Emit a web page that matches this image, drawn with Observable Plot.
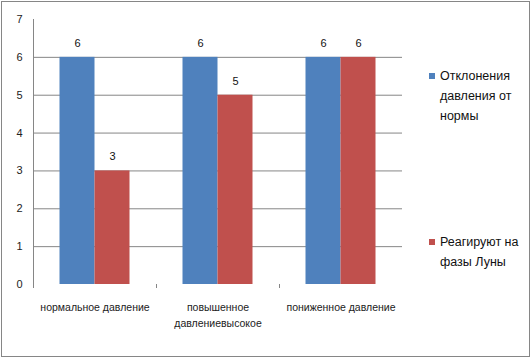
<!DOCTYPE html>
<html><head><meta charset="utf-8">
<script src="https://cdn.jsdelivr.net/npm/d3@7"></script>
<script src="https://cdn.jsdelivr.net/npm/@observablehq/plot@0.6"></script>
<style>
body{margin:0;background:#fff;font-family:"Liberation Sans",Arial,sans-serif;}
#wrap{position:relative;width:532px;height:359px;}
#border{position:absolute;left:1px;top:1px;width:527px;height:354px;border:1px solid #868686;}
.leg{position:absolute;font-size:12.5px;line-height:20px;color:#111;}
.sw{position:absolute;width:6px;height:6px;}
</style></head>
<body><div id="wrap"><div id="border"></div></div>
<script>
const categories = ["нормальное давление", "повышенное\nдавлениевысокое", "пониженное давление"];
const seriesNames = ["Отклонения\nдавления от\nнормы", "Реагируют на\nфазы Луны"];
const deviations = [6, 6, 6];
const moonReact = [3, 5, 6];
const yTicks = [0, 1, 2, 3, 4, 5, 6, 7];
const colors = ["#4F81BD", "#C0504D"];

const W = 532, H = 359, mL = 33, mR = 130, mT = 19, mB = 75;
const bw = (W - mL - mR) / categories.length;
const barW = 35;
const gap = (bw - 2 * barW) / 2;

const data = [];
categories.forEach((c, i) => {
  data.push({cat: c, s: 0, v: deviations[i]});
  data.push({cat: c, s: 1, v: moonReact[i]});
});

const chart = Plot.plot({
  width: W, height: H,
  marginLeft: mL, marginRight: mR, marginTop: mT, marginBottom: mB,
  style: {fontFamily: "Liberation Sans, Arial, sans-serif", fontSize: "11px", color: "#222", background: "transparent"},
  x: {domain: categories, padding: 0, label: null},
  y: {domain: [0, 7], label: null},
  marks: [
    Plot.ruleY(yTicks.filter(d => d > 0 && d < 7), {stroke: "#868686", strokeWidth: 1}),
    Plot.frame({anchor: "left", stroke: "#868686", insetBottom: -3}),
    Plot.barY(data.filter(d => d.s === 0), {x: "cat", y: "v", fill: colors[0], insetLeft: gap, insetRight: gap + barW}),
    Plot.barY(data.filter(d => d.s === 1), {x: "cat", y: "v", fill: colors[1], insetLeft: gap + barW, insetRight: gap}),
    Plot.text(data.filter(d => d.s === 0), {x: "cat", y: "v", text: d => String(d.v), dx: -barW / 2, dy: -14, fontSize: 11, fill: "#111"}),
    Plot.text(data.filter(d => d.s === 1), {x: "cat", y: "v", text: d => String(d.v), dx: barW / 2, dy: -14, fontSize: 11, fill: "#111"}),
    Plot.ruleX(categories.slice(1), {x: d => d, dx: -bw / 2, y1: 0, y2: 0, insetBottom: -4, stroke: "#868686"}),
    Plot.axisY(yTicks, {tickSize: 0, tickPadding: 11, fontSize: 11, fill: "#222"}),
    Plot.axisX({tickSize: 0, tickPadding: 16, fontSize: 10.5, fill: "#222", lineHeight: 1.45})
  ]
});
chart.style.position = "absolute";
chart.style.left = "0px";
chart.style.top = "0px";
const wrap = document.getElementById("wrap");
wrap.appendChild(chart);

// legend
const legTops = [66, 232];
seriesNames.forEach((name, i) => {
  const sw = document.createElement("div");
  sw.className = "sw";
  sw.style.background = colors[i];
  sw.style.left = "429px";
  sw.style.top = (legTops[i] + 7) + "px";
  wrap.appendChild(sw);
  const t = document.createElement("div");
  t.className = "leg";
  t.style.left = "440px";
  t.style.top = legTops[i] + "px";
  t.innerHTML = name.split("\n").join("<br>");
  wrap.appendChild(t);
});
</script>
</body></html>
